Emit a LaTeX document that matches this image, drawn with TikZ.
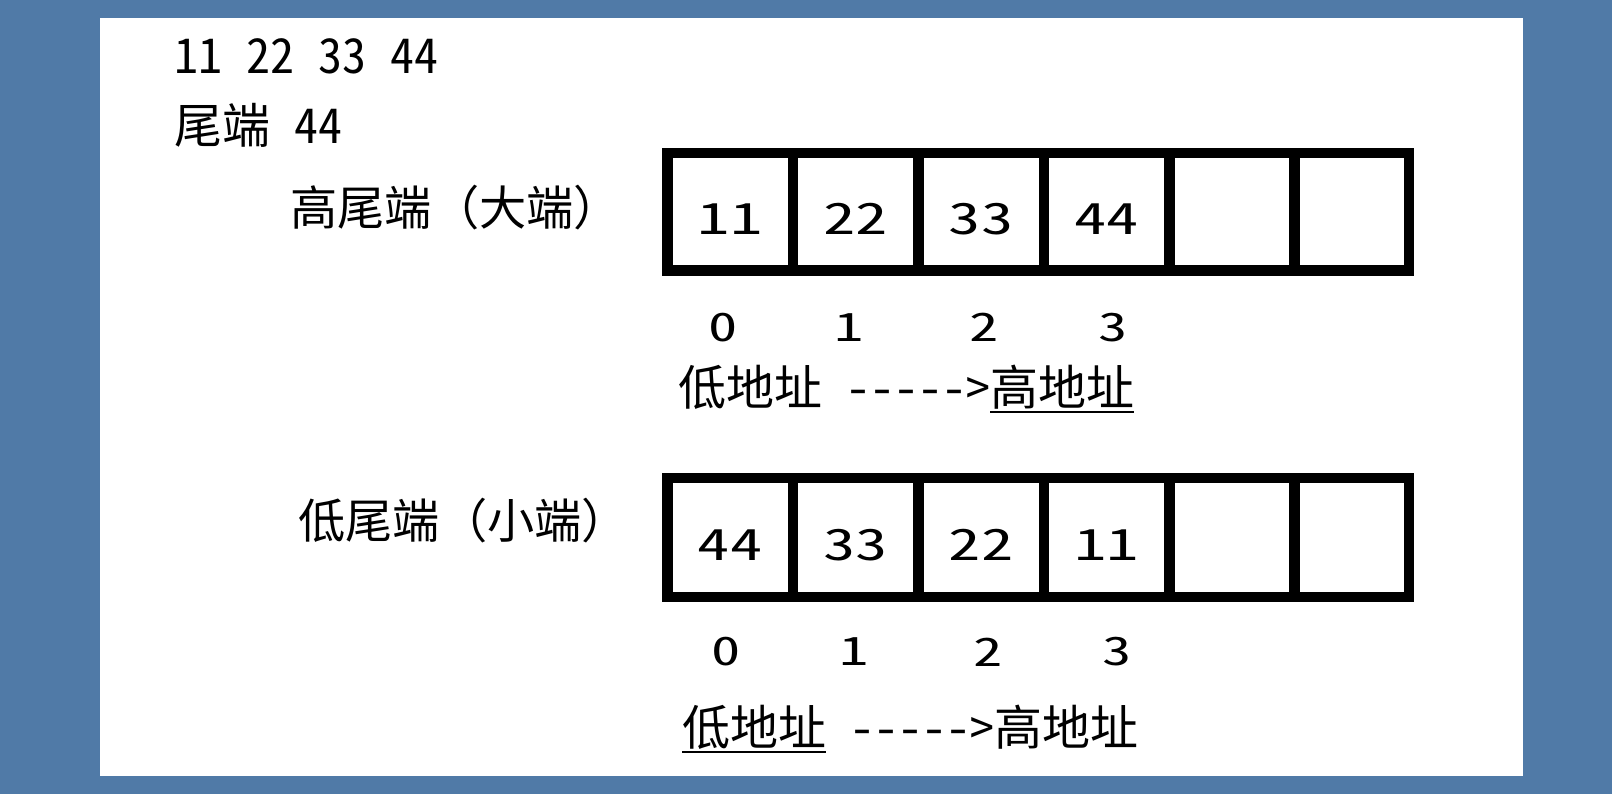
\documentclass[tikz,border=0pt]{standalone}
\usepackage{fontspec}
\newfontfamily\hwf[RawFeature=+hwid]{Noto Sans CJK SC}
\newfontfamily\fwf{Noto Sans CJK SC}
\definecolor{bgblue}{RGB}{80,122,167}
\newcommand\myul[1]{\setbox0\hbox{#1}\rlap{\rule[-4pt]{\wd0}{1pt}}\box0\relax}
\newcommand\widedig[1]{\scalebox{1.5}[1]{#1}}
\begin{document}
\begin{tikzpicture}[x=0.5pt,y=-0.5pt,
  cell/.style={draw=black, line width=5.25pt, minimum width=62.75pt,
    inner sep=0pt, text height=23pt, text depth=0pt,
    font=\hwf\fontsize{21.5pt}{22pt}\selectfont},
  toprow/.style={cell, minimum height=58.75pt},
  botrow/.style={cell, minimum height=59.5pt},
  lastcell/.style={minimum width=57.5pt},
  idx/.style={inner sep=0pt, font=\hwf\fontsize{19.5pt}{20pt}\selectfont},
  txt/.style={inner sep=0pt, anchor=base west},
  big/.style={txt, font=\hwf\fontsize{24pt}{25pt}\selectfont},
  lab/.style={txt, font=\fwf\fontsize{23.6pt}{25pt}\selectfont},
  addr/.style={txt, font=\hwf\fontsize{24pt}{26pt}\selectfont}]
\fill[bgblue] (0,0) rectangle (1612,794);
\fill[white] (100,17.5) rectangle (1523,776);

\node[big] (seq) at (174,73) {11 22 33 44};
\node[big] (tail) at (174,143) {尾端 44};

\node[lab] (bigl) at (290,225) {高尾端（大端）};
\node[lab] (littlel) at (298,538) {低尾端（小端）};

% top row
\node[toprow] (t0) at (730,211.75) {\widedig{11}};
\node[toprow] (t1) at (855.5,211.75) {\widedig{22}};
\node[toprow] (t2) at (981,211.75) {\widedig{33}};
\node[toprow] (t3) at (1106.5,211.75) {\widedig{44}};
\node[toprow] (t4) at (1231.5,211.75) {};
\node[toprow,lastcell] (t5) at (1351.5,211.75) {};

\node[idx] (ti0) at (723,327.5) {\widedig{0}};
\node[idx] (ti1) at (849,327.5) {\widedig{1}};
\node[idx] (ti2) at (984,327.5) {\widedig{2}};
\node[idx] (ti3) at (1113,327.5) {\widedig{3}};

\node[addr] (taddr) at (678,405) {低地址 ----->\myul{高地址}};

% bottom row
\node[botrow] (b0) at (730,537.5) {\widedig{44}};
\node[botrow] (b1) at (855.5,537.5) {\widedig{33}};
\node[botrow] (b2) at (981,537.5) {\widedig{22}};
\node[botrow] (b3) at (1106.5,537.5) {\widedig{11}};
\node[botrow] (b4) at (1231.5,537.5) {};
\node[botrow,lastcell] (b5) at (1351.5,537.5) {};

\node[idx] (bi0) at (726,652) {\widedig{0}};
\node[idx] (bi1) at (854,652) {\widedig{1}};
\node[idx] (bi2) at (988,652) {\widedig{2}};
\node[idx] (bi3) at (1117,652) {\widedig{3}};

\node[addr] (baddr) at (682,745) {\myul{低地址} ----->高地址};
\end{tikzpicture}
\end{document}
